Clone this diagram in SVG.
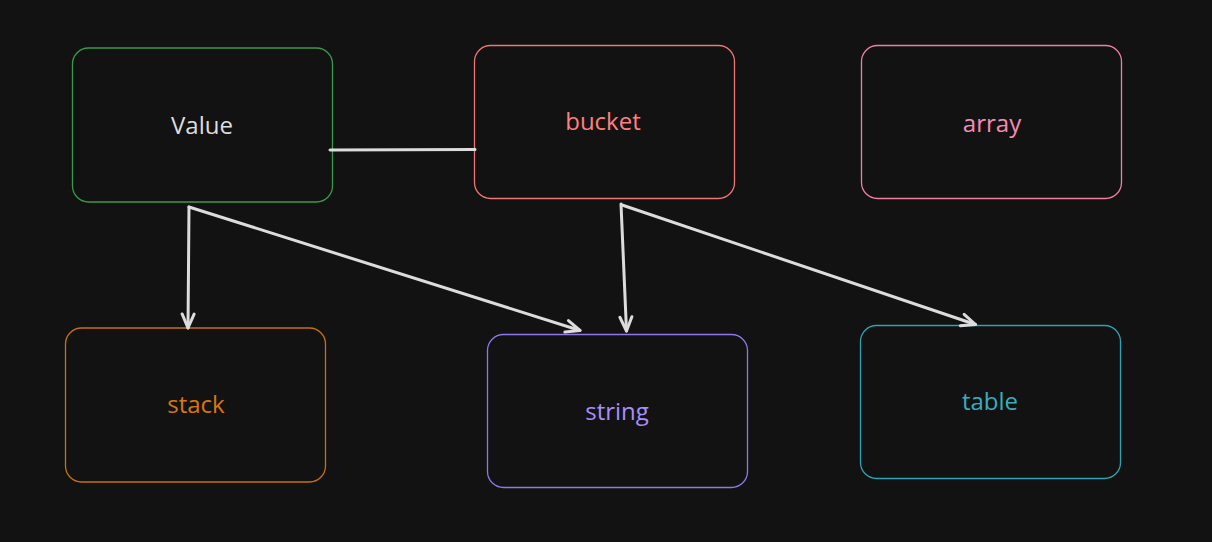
<svg xmlns="http://www.w3.org/2000/svg" width="1212" height="542" viewBox="0 0 1212 542">
  <defs>
    <style>
      .box { fill: #121212; stroke-width: 1.3; }
      .lbl { font-family: "Open Sans", "Noto Sans", "Liberation Sans", sans-serif; font-size: 24px; font-weight: 500; text-anchor: middle; dominant-baseline: central; }
      .conn { stroke: #dcdcdc; stroke-width: 3; fill: none; stroke-linecap: round; stroke-linejoin: round; }
    </style>
    <marker id="arrow" markerWidth="20" markerHeight="20" refX="0" refY="0" viewBox="-16 -10 20 20" orient="auto" markerUnits="userSpaceOnUse">
      <path d="M -14 -6 L 0 0 L -14 6" fill="none" stroke="#dcdcdc" stroke-width="3" stroke-linecap="round" stroke-linejoin="round"/>
    </marker>
  </defs>
  <rect width="1212" height="542" fill="#121212"/>

  <g id="node-value">
    <rect class="box" x="72.5" y="48" width="260" height="154" rx="16" stroke="#3a9a48"/>
    <text class="lbl" x="202" y="124" fill="#dedede">Value</text>
  </g>
  <g id="node-bucket">
    <rect class="box" x="474.5" y="45.5" width="260" height="153" rx="16" stroke="#f07575"/>
    <text class="lbl" x="603" y="120" fill="#ff8080">bucket</text>
  </g>
  <g id="node-array">
    <rect class="box" x="861.5" y="45.5" width="260" height="153" rx="16" stroke="#f0809f"/>
    <text class="lbl" x="992" y="122" fill="#f78bb0">array</text>
  </g>
  <g id="node-stack">
    <rect class="box" x="65.5" y="328" width="260" height="154" rx="16" stroke="#c8700c"/>
    <text class="lbl" x="196" y="403" fill="#d9770e">stack</text>
  </g>
  <g id="node-string">
    <rect class="box" x="487.5" y="334.5" width="260" height="153" rx="16" stroke="#8f77e8"/>
    <text class="lbl" x="617" y="410" fill="#a58ffa">string</text>
  </g>
  <g id="node-table">
    <rect class="box" x="860.5" y="325.5" width="260" height="153" rx="16" stroke="#2fa3b3"/>
    <text class="lbl" x="990" y="400" fill="#3bacbd">table</text>
  </g>

  <g id="connectors">
    <path class="conn" d="M 330 150 L 475 149.5"/>
    <path class="conn" d="M 189 207 L 188 328" marker-end="url(#arrow)"/>
    <path class="conn" d="M 189 207 L 580 330.5" marker-end="url(#arrow)"/>
    <path class="conn" d="M 621 204 L 626.5 331" marker-end="url(#arrow)"/>
    <path class="conn" d="M 622 205 L 975.5 324.5" marker-end="url(#arrow)"/>
  </g>
</svg>
